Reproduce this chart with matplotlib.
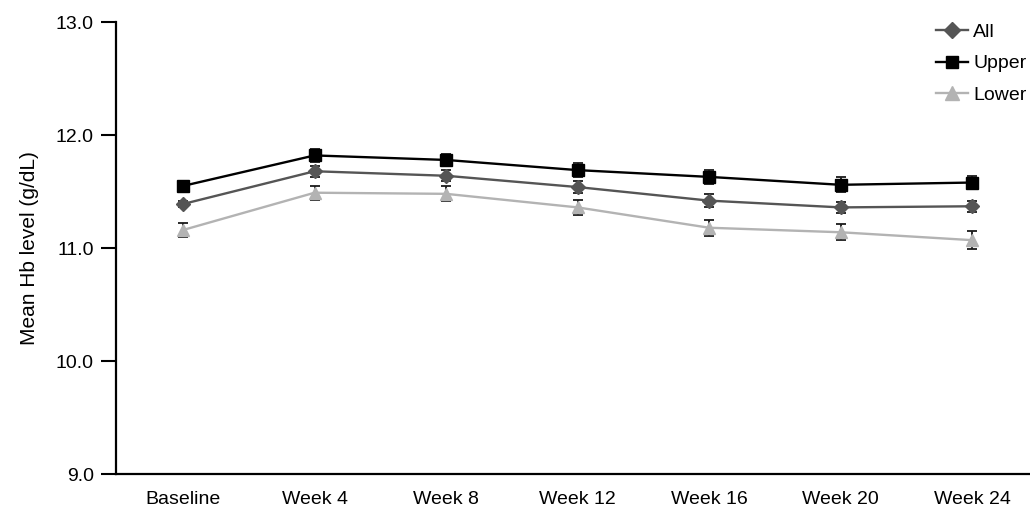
import matplotlib.pyplot as plt
from matplotlib.lines import Line2D
import numpy as np

plt.rcParams['font.family'] = ['Liberation Sans', 'DejaVu Sans']

# Visitas e valores
visitas = ["Baseline", "Week 4", "Week 8", "Week 12", "Week 16", "Week 20", "Week 24"]

todos = [11.39, 11.68, 11.64, 11.54, 11.42, 11.36, 11.37]
todos_err = [0.025, 0.05, 0.05, 0.05, 0.055, 0.05, 0.05]

superior = [11.55, 11.82, 11.78, 11.69, 11.63, 11.56, 11.58]
superior_err = [0.03, 0.06, 0.055, 0.065, 0.065, 0.065, 0.06]

inferior = [11.16, 11.49, 11.48, 11.36, 11.18, 11.14, 11.07]
inferior_err = [0.06, 0.063, 0.066, 0.068, 0.07, 0.07, 0.08]

fig = plt.figure(figsize=(10.3, 5.07), dpi=100)
ax = fig.add_axes([0.1126, 0.065, 0.8874, 0.8914])

x = np.arange(len(visitas))

series = [
    ("All", todos, todos_err, "#555555", "D", 7),
    ("Upper", superior, superior_err, "#000000", "s", 8),
    ("Lower", inferior, inferior_err, "#b3b3b3", "^", 9),
]

alcas = []
for nome, vals, err, cor, marc, tam in series:
    ax.errorbar(x, vals, yerr=err, color=cor, marker=marc, markersize=tam,
                linewidth=1.7, ecolor="#1a1a1a", elinewidth=1.3, capsize=3.5,
                capthick=1.3)
    alcas.append(Line2D([], [], color=cor, marker=marc, markersize=tam + 1,
                        linewidth=1.7, label=nome))

ax.set_xlim(-0.51, 6.44)
ax.set_ylim(9.0, 13.0)
ax.set_yticks([9.0, 10.0, 11.0, 12.0, 13.0])
ax.set_yticklabels(["9.0", "10.0", "11.0", "12.0", "13.0"], fontsize=14)
ax.set_xticks(x)
ax.set_xticklabels(visitas, fontsize=14)
ax.tick_params(axis='x', length=0, pad=12)
ax.tick_params(axis='y', length=11, width=1.5, pad=5)
ax.set_ylabel("Mean Hb level (g/dL)", fontsize=15, labelpad=12)

for lado in ["top", "right"]:
    ax.spines[lado].set_visible(False)
for lado in ["left", "bottom"]:
    ax.spines[lado].set_linewidth(1.6)

ax.legend(handles=alcas, loc="upper right", frameon=False, fontsize=14,
          handlelength=1.6, handletextpad=0.3, labelspacing=0.72,
          borderaxespad=0.0, bbox_to_anchor=(1.005, 1.015))

plt.savefig("out.png", dpi=100)
